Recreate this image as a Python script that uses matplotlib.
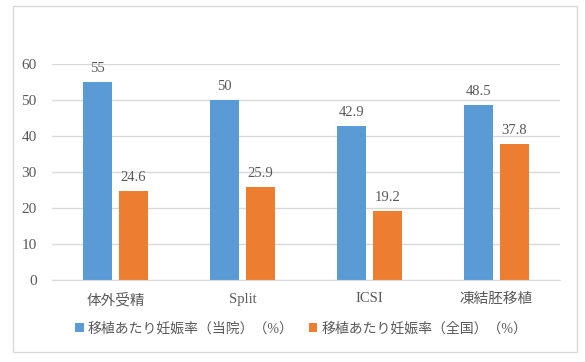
import numpy as np
import matplotlib.pyplot as plt
from matplotlib.patches import Rectangle

plt.rcParams['font.family'] = ['Liberation Serif', 'Noto Sans CJK JP']

categories = ['体外受精', 'Split', 'ICSI', '凍結胚移植']
own_rate = [55, 50, 42.9, 48.5]
national_rate = [24.6, 25.9, 19.2, 37.8]
series_names = ['移植あたり妊娠率（当院）（%）', '移植あたり妊娠率（全国）（%）']
y_ticks = [0, 10, 20, 30, 40, 50, 60]

blue = '#5B9BD5'
orange = '#ED7D31'
text_gray = '#595959'
grid_gray = '#D9D9D9'

fig = plt.figure(figsize=(5.85, 3.62), dpi=100)
ax = fig.add_axes([52 / 585, 1 - 280 / 362, 508 / 585, 216 / 362])

x = np.arange(len(categories))
w = 29 / 127
off = 18 / 127
b1 = ax.bar(x - off, own_rate, w, color=blue, label=series_names[0], zorder=3)
b2 = ax.bar(x + off, national_rate, w, color=orange, label=series_names[1], zorder=3)

for bars, vals in [(b1, own_rate), (b2, national_rate)]:
    for bar, v in zip(bars, vals):
        ax.annotate(f'{v:g}', (bar.get_x() + bar.get_width() / 2, v),
                    xytext=(0, 5), textcoords='offset points',
                    ha='center', va='bottom', fontsize=10.5, color=text_gray)

ax.set_xlim(-0.5, len(categories) - 0.5)
ax.set_ylim(0, 60)
ax.set_yticks(y_ticks)
ax.set_xticks(x)
ax.set_xticklabels(categories)
ax.tick_params(axis='both', length=0, colors=text_gray)
ax.tick_params(axis='y', pad=11, labelsize=11)
ax.tick_params(axis='x', pad=9, labelsize=10.5)
ax.grid(axis='y', color=grid_gray, linewidth=1, zorder=0)
for side in ['top', 'right', 'left']:
    ax.spines[side].set_visible(False)
ax.spines['bottom'].set_color(grid_gray)
ax.spines['bottom'].set_zorder(4)

leg = fig.legend(handles=[b1, b2], loc='center', bbox_to_anchor=(0.515, 1 - 329 / 362),
                 ncol=2, frameon=False, fontsize=10, handlelength=0.6, handleheight=0.6,
                 handletextpad=0.3, columnspacing=1.1)
for t in leg.get_texts():
    t.set_color(text_gray)

fig.patches.append(Rectangle((13 / 585, 1 - 352 / 362), 564 / 585, 346 / 362,
                             transform=fig.transFigure, fill=False,
                             edgecolor=grid_gray, linewidth=1))

fig.savefig('out.png', dpi=100)
